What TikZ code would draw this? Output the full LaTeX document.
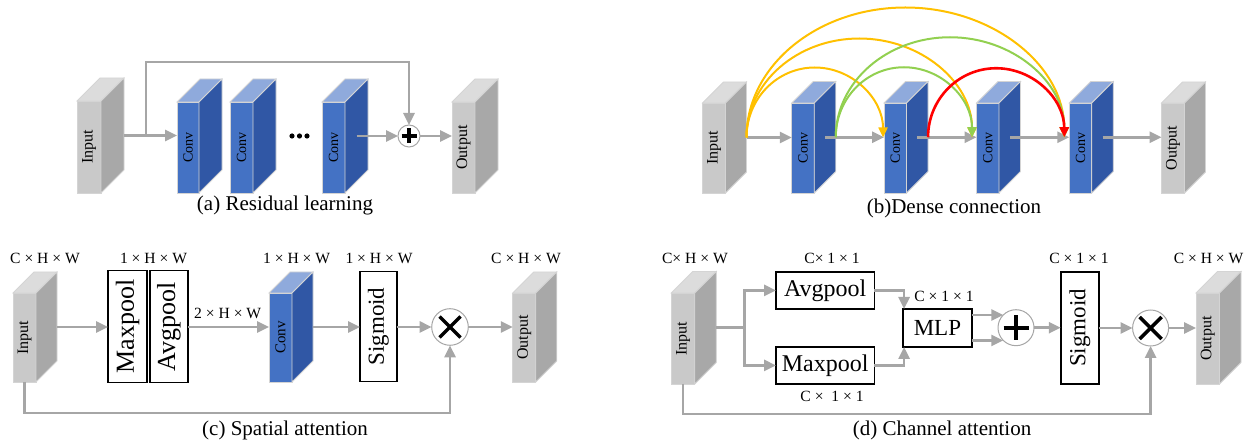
\documentclass[tikz,border=0pt]{standalone}
\usepackage{fontspec}
\usepackage{graphicx}
\setmainfont{Liberation Serif}
\usetikzlibrary{arrows.meta,calc}

\definecolor{gfront}{HTML}{C9C9C9}
\definecolor{gtop}{HTML}{DCDCDC}
\definecolor{gside}{HTML}{A8A8A8}
\definecolor{bfront}{HTML}{4472C4}
\definecolor{btop}{HTML}{8FAADC}
\definecolor{bside}{HTML}{3057A5}
\definecolor{edgegray}{HTML}{D4D4D4}
\definecolor{flow}{HTML}{A6A6A6}
\definecolor{yel}{HTML}{FFC000}
\definecolor{grn}{HTML}{92D050}
\definecolor{rd}{HTML}{FF0000}

\tikzset{
  face/.style={draw=edgegray, line width=0.4pt},
  grayfront/.style={face, fill=gfront, rectangle, inner sep=0pt, outer sep=0pt},
  graytop/.style={face, fill=gtop},
  grayside/.style={face, fill=gside},
  bluefront/.style={face, fill=bfront, rectangle, inner sep=0pt, outer sep=0pt},
  bluetop/.style={face, fill=btop},
  blueside/.style={face, fill=bside},
  flowline/.style={draw=flow, line width=1.3pt},
  flowarrow/.style={flowline, -{Triangle[length=6pt,width=5.5pt]}},
  dense/.style={line width=1pt, -{Triangle[length=5pt,width=4.5pt]}},
  opnode/.style={circle, draw=flow, line width=0.5pt, fill=white, inner sep=0pt, outer sep=0pt},
  opmark/.style={line width=1.7pt, black},
  layerbox/.style={rectangle, draw=black, line width=0.9pt, fill=white, inner sep=0pt, outer sep=0pt, font=\fontsize{11.5}{12}\selectfont},
  dimlabel/.style={font=\fontsize{7.8}{8}\selectfont, inner sep=0pt},
  caption/.style={font=\fontsize{10.5}{12}\selectfont, inner sep=0pt},
}

% 3D feature block: name, front centre x, y, width, height, depth, kind, font size, label
\newcommand{\layercube}[9]{%
  \node[#7front, minimum width={#4*0.5pt}, minimum height={#5*0.5pt}] (#1) at (#2,#3) {};
  \filldraw[#7top] (#1.north west) -- ++(#6,-#6) -- ++(#4,0) -- (#1.north east) -- cycle;
  \filldraw[#7side] (#1.north east) -- ++(#6,-#6) -- ++(0,#5) -- (#1.south east) -- cycle;
  \coordinate (#1c) at ($(#1.east)+(0.5*#6,-0.5*#6)$);
  \coordinate (#1b) at ($(#1.east)+(#6,-0.5*#6)$);
  \node[rotate=90, inner sep=0pt, font=\fontsize{#8}{#8}\selectfont] at (#1) {#9};
}

\begin{document}
\begin{tikzpicture}[x=0.5pt, y=-0.5pt]
\useasboundingbox (0,0) rectangle (1255,443);

% ---------------- (a) residual learning ----------------
\layercube{inA}{89}{147}{24}{92}{23}{gray}{8}{Input}
\layercube{convA1}{188}{147.5}{22}{91}{23}{blue}{7}{Conv}
\layercube{convA2}{241.5}{147.5}{23}{91}{23}{blue}{7}{Conv}
\layercube{convA3}{333.5}{147.5}{23}{91}{23}{blue}{7}{Conv}
\layercube{outA}{463.5}{147.5}{23}{91}{23}{gray}{8}{Output}
\node[opnode, minimum size=11pt] (plusA) at (409,136) {};
\draw[opmark] ($(plusA)+(-7.5,0)$) -- ($(plusA)+(7.5,0)$);
\draw[opmark] ($(plusA)+(0,-7.5)$) -- ($(plusA)+(0,7.5)$);
\coordinate (skipA) at (146,136);
\draw[flowarrow] (inAb) -- (convA1.west |- inAb);
\draw[flowarrow] (skipA) -- ++(0,-74) -| (plusA.north);
\draw[flowarrow] (convA3c) -- (plusA.west);
\draw[flowarrow] (plusA.east) -- (outA.west |- plusA);
\foreach \dx in {292,299.5,307} \fill (\dx,136) circle[radius=1.3pt];
\node[caption] (capA) at (285,205) {(a) Residual learning};

% ---------------- (b) dense connection ----------------
\layercube{inB}{714}{148}{23}{90}{21}{gray}{8}{Input}
\layercube{convB1}{803}{148}{22.5}{90}{21.5}{blue}{7}{Conv}
\layercube{convB2}{895.3}{148}{22.5}{90}{21.5}{blue}{7}{Conv}
\layercube{convB3}{987.8}{148}{22.5}{90}{21.5}{blue}{7}{Conv}
\layercube{convB4}{1080.5}{148}{22.5}{90}{21.5}{blue}{7}{Conv}
\layercube{outB}{1173}{148}{23}{90}{21}{gray}{8}{Output}
\draw[flowarrow] (inBb) -- (convB1.west |- inBb);
\draw[flowarrow] (convB1c) -- (convB2.west |- convB1c);
\draw[flowarrow] (convB2c) -- (convB3.west |- convB2c);
\draw[flowarrow] (convB3c) -- (convB4.west |- convB3c);
\draw[flowarrow] (convB4c) -- (outB.west |- convB4c);
\coordinate (tB2) at ($(convB2.west |- inBb)+(-1,0)$);
\coordinate (tB3) at ($(convB3.west |- inBb)+(-4.5,0)$);
\coordinate (tB4) at ($(convB4.west |- inBb)+(-5,0)$);
\draw[dense, yel] let \p1=(inBb), \p2=(tB2) in (\p1) arc[start angle=180, end angle=0, x radius={0.5*(\x2-\x1)}, y radius=35pt];
\draw[dense, yel] let \p1=(inBb), \p2=(tB3) in (\p1) arc[start angle=180, end angle=0, x radius={0.5*(\x2-\x1)}, y radius=49.5pt];
\draw[dense, yel] let \p1=(inBb), \p2=(tB4) in (\p1) arc[start angle=180, end angle=0, x radius={0.5*(\x2-\x1)}, y radius=65pt];
\draw[dense, grn] let \p1=(convB1b), \p2=(tB3) in (\p1) arc[start angle=180, end angle=0, x radius={0.5*(\x2-\x1)}, y radius=35pt];
\draw[dense, grn] let \p1=(convB1b), \p2=(tB4) in (\p1) arc[start angle=180, end angle=0, x radius={0.5*(\x2-\x1)}, y radius=50pt];
\draw[dense, rd, line width=1.3pt] let \p1=(convB2b), \p2=(tB4) in (\p1) arc[start angle=180, end angle=0, x radius={0.5*(\x2-\x1)}, y radius=34.5pt];
\node[caption] (capB) at (954,208) {(b)Dense connection};

% ---------------- (c) spatial attention ----------------
\layercube{inC}{24.5}{337.5}{23}{89}{21}{gray}{8}{Input}
\node[layerbox, font=\fontsize{13}{13}\selectfont, minimum width=19.5pt, minimum height=56pt] (maxC) at (127.5,326.5) {\rotatebox{90}{Maxpool}};
\node[layerbox, font=\fontsize{13}{13}\selectfont, minimum width=19pt, minimum height=56pt] (avgC) at (169,326.5) {\rotatebox{90}{Avgpool}};
\layercube{convC}{280.5}{337.5}{23}{89}{21}{blue}{7.5}{Conv}
\node[layerbox, minimum width=18.3pt, minimum height=55pt] (sigC) at (378.3,326.5) {\rotatebox{90}{Sigmoid}};
\node[opnode, minimum size=18.3pt] (timesC) at (450,327) {};
\draw[opmark] ($(timesC)+(-10.5,-10.5)$) -- ($(timesC)+(10.5,10.5)$);
\draw[opmark] ($(timesC)+(-10.5,10.5)$) -- ($(timesC)+(10.5,-10.5)$);
\layercube{outC}{524.3}{337.5}{23}{89}{21}{gray}{8}{Output}
\draw[flowarrow] (inCb) -- (maxC.west |- inCb);
\draw[flowarrow] (avgC.east |- inCb) -- (convC.west |- inCb);
\draw[flowarrow] (convCb) -- (sigC.west |- convCb);
\draw[flowarrow] (sigC.east |- timesC) -- (timesC.west);
\draw[flowarrow] (timesC.east) -- (outC.west |- timesC);
\draw[flowarrow] (inC.south) -- ++(0,31) -| (timesC.south);
\node[dimlabel] (dC1) at (45,258) {C × H × W};
\node[dimlabel] (dC2) at (153.5,258) {1 × H × W};
\node[dimlabel] (dC3) at (227.7,313) {2 × H × W};
\node[dimlabel] (dC4) at (296.6,258) {1 × H × W};
\node[dimlabel] (dC5) at (379,258) {1 × H × W};
\node[dimlabel] (dC6) at (526,258) {C × H × W};
\node[caption] (capC) at (285,430) {(c) Spatial attention};

% ---------------- (d) channel attention ----------------
\layercube{inD}{683}{338.5}{23.5}{91}{21.5}{gray}{8}{Input}
\path (inDb) ++(28.5,0) coordinate (jD);
\node[layerbox, font=\fontsize{12}{12}\selectfont, minimum width=49.2pt, minimum height=18.7pt] (avgD) at (825.2,290.4) {Avgpool};
\node[layerbox, font=\fontsize{12}{12}\selectfont, minimum width=49.2pt, minimum height=18.7pt] (maxD) at (825.2,365.4) {Maxpool};
\node[layerbox, minimum width=34.3pt, minimum height=19pt] (mlpD) at (937.4,328) {MLP};
\node[opnode, minimum size=18pt] (plusD) at (1016,327.7) {};
\draw[opmark, line width=2pt] ($(plusD)+(-12.5,0)$) -- ($(plusD)+(12.5,0)$);
\draw[opmark, line width=2pt] ($(plusD)+(0,-12.5)$) -- ($(plusD)+(0,12.5)$);
\node[layerbox, minimum width=19pt, minimum height=56pt] (sigD) at (1079.8,328) {\rotatebox{90}{Sigmoid}};
\node[opnode, minimum size=18pt] (timesD) at (1150.6,328) {};
\draw[opmark] ($(timesD)+(-11,-11)$) -- ($(timesD)+(11,11)$);
\draw[opmark] ($(timesD)+(-11,11)$) -- ($(timesD)+(11,-11)$);
\layercube{outD}{1207.8}{338.5}{23.5}{91}{21.5}{gray}{8}{Output}
\draw[flowline] (inDb) -- (jD);
\draw[flowarrow] (jD) |- (avgD.west);
\draw[flowarrow] (jD) |- (maxD.west);
\draw[flowarrow] (avgD.east) -| ([xshift=0.5pt]mlpD.north west);
\draw[flowarrow] (maxD.east) -| ([xshift=0.5pt]mlpD.south west);
\draw[flowarrow] (mlpD.east |- plusD.135) -- (plusD.135);
\draw[flowarrow] (mlpD.east |- plusD.225) -- (plusD.225);
\draw[flowarrow] (plusD.east) -- (sigD.west |- plusD);
\draw[flowarrow] (sigD.east) -- (timesD.west);
\draw[flowarrow] (timesD.east) -- (outD.west |- timesD);
\draw[flowarrow] (inD.south) -- ++(0,30) -| (timesD.south);
\node[dimlabel] (dD1) at (694.9,258) {C× H × W};
\node[dimlabel] (dD2) at (832,258) {C× 1 × 1};
\node[dimlabel] (dD3) at (944,296) {C × 1 × 1};
\node[dimlabel] (dD4) at (832,396.7) {C ×~ 1 × 1};
\node[dimlabel] (dD5) at (1079,258) {C × 1 × 1};
\node[dimlabel] (dD6) at (1208.6,258) {C × H × W};
\node[caption] (capD) at (942,430) {(d) Channel attention};
\end{tikzpicture}
\end{document}
